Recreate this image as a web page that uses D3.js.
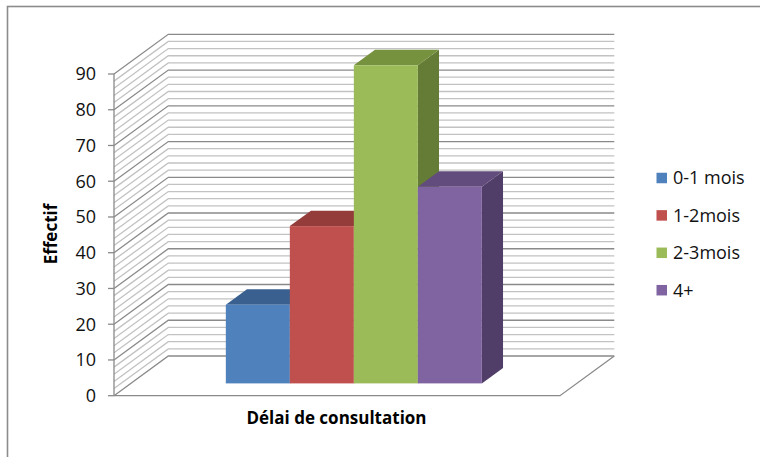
<!DOCTYPE html>
<html>
<head>
<meta charset="utf-8">
<script src="https://cdn.jsdelivr.net/npm/d3@7"></script>
<style>
  html, body { margin: 0; padding: 0; background: #fff; }
  svg { display: block; font-family: "Open Sans", "Noto Sans", sans-serif; }
</style>
</head>
<body>
<svg id="chart" width="760" height="457"></svg>
<script>
// Data
const categories = ["Délai de consultation"];
const seriesNames = ["0-1 mois", "1-2mois", "2-3mois", "4+"];
const seriesValues = [22, 44, 89, 55];
const yTicks = [0, 10, 20, 30, 40, 50, 60, 70, 80, 90];

// Colours: front, top, side faces
const frontColors = ["#4F81BD", "#C0504D", "#9BBB59", "#8064A2"];
const topColors   = ["#3A6090", "#933C39", "#76923E", "#624B7D"];
const sideColors  = ["#30507A", "#7E3330", "#647C36", "#503E68"];

const svg = d3.select("#chart");

// Outer chart frame
svg.append("rect")
  .attr("x", 7.5).attr("y", 6.5)
  .attr("width", 800).attr("height", 500)
  .attr("fill", "none").attr("stroke", "#8c8c8c").attr("stroke-width", 1.6);

// Front plane of the 3D plot box and its depth vector
const X0 = 114, X1 = 560;
const DX = 54.3, DY = -39.7;
const y = d3.scaleLinear().domain([0, 90]).range([395.7, 74]);
const proj = (x, v, z) => [x + z * DX, y(v) + z * DY];

// Category / series scales in the front plane
const x0 = d3.scaleBand().domain(categories).range([X0, X1]).paddingInner(0).paddingOuter(0.371);
const x1 = d3.scaleBand().domain(seriesNames).range([0, x0.bandwidth()]).padding(0);

const line = d3.line();

// Gridlines on the side and back walls (every 2 units, darker every 10)
const gridVals = d3.range(0, 91, 2);
const walls = svg.append("g").attr("fill", "none");
walls.selectAll("path.grid")
  .data(gridVals.filter(v => v % 10 !== 0))
  .join("path")
  .attr("d", v => line([proj(X0, v, 0), proj(X0, v, 1), proj(X1, v, 1)]))
  .attr("stroke", "#c2c2c2").attr("stroke-width", 1.3);
walls.selectAll("path.major")
  .data(gridVals.filter(v => v % 10 === 0))
  .join("path")
  .attr("d", v => line([proj(X0, v, 0), proj(X0, v, 1), proj(X1, v, 1)]))
  .attr("stroke", "#8a8a8a").attr("stroke-width", 1.3);

// Floor outline
walls.append("path")
  .attr("d", line([proj(X0, 0, 0), proj(X1, 0, 0), proj(X1, 0, 1)]))
  .attr("stroke", "#8a8a8a").attr("stroke-width", 1.3);

// Value axis line, ticks and labels
const axisG = svg.append("g");
axisG.append("path")
  .attr("d", line([proj(X0, 0, 0), proj(X0, 90, 0)]))
  .attr("fill", "none").attr("stroke", "#8a8a8a").attr("stroke-width", 1.3);
axisG.selectAll("line.tick")
  .data(yTicks)
  .join("line")
  .attr("x1", X0 - 6).attr("x2", X0)
  .attr("y1", d => y(d)).attr("y2", d => y(d))
  .attr("stroke", "#8a8a8a").attr("stroke-width", 1.3);
axisG.selectAll("text.tick")
  .data(yTicks)
  .join("text")
  .attr("x", 96).attr("y", d => y(d)).attr("dy", "0.35em")
  .attr("text-anchor", "end")
  .attr("font-size", 18).attr("fill", "#111")
  .text(d => d);

// 3D bars, drawn left to right so each front face hides the previous side face
const Z0 = 0.31, Z1 = 0.70;
const bars = svg.append("g");
seriesNames.forEach((name, i) => {
  const v = seriesValues[i];
  const xl = x0(categories[0]) + x1(name);
  const xr = xl + x1.bandwidth();
  const g = bars.append("g");
  // side face
  g.append("path")
    .attr("d", line([proj(xr, 0, Z0), proj(xr, 0, Z1), proj(xr, v, Z1), proj(xr, v, Z0)]) + "Z")
    .attr("fill", sideColors[i]);
  // top face
  g.append("path")
    .attr("d", line([proj(xl, v, Z0), proj(xl, v, Z1), proj(xr, v, Z1), proj(xr, v, Z0)]) + "Z")
    .attr("fill", topColors[i]);
  // front face
  const [fx, fy] = proj(xl, v, Z0);
  const [, fb] = proj(xl, 0, Z0);
  g.append("rect")
    .attr("x", fx).attr("y", fy)
    .attr("width", x1.bandwidth()).attr("height", fb - fy)
    .attr("fill", frontColors[i]);
});

// Axis titles
svg.append("text")
  .attr("transform", "translate(57,234) rotate(-90)")
  .attr("text-anchor", "middle")
  .attr("font-size", 17).attr("font-weight", "bold").attr("fill", "#000")
  .text("Effectif");

svg.append("text")
  .attr("x", 336.5).attr("y", 424)
  .attr("text-anchor", "middle")
  .attr("font-size", 17).attr("font-weight", "bold").attr("fill", "#000")
  .text(categories[0]);

// Legend
const legend = svg.append("g");
const legendItems = legend.selectAll("g")
  .data(seriesNames)
  .join("g")
  .attr("transform", (d, i) => `translate(656.5,${178 + i * 37.4})`);
legendItems.append("rect")
  .attr("x", 0).attr("y", -5.25)
  .attr("width", 10.5).attr("height", 10.5)
  .attr("fill", (d, i) => frontColors[i]);
legendItems.append("text")
  .attr("x", 16.5).attr("y", 0).attr("dy", "0.35em")
  .attr("font-size", 18).attr("fill", "#111")
  .text(d => d);
</script>
</body>
</html>
